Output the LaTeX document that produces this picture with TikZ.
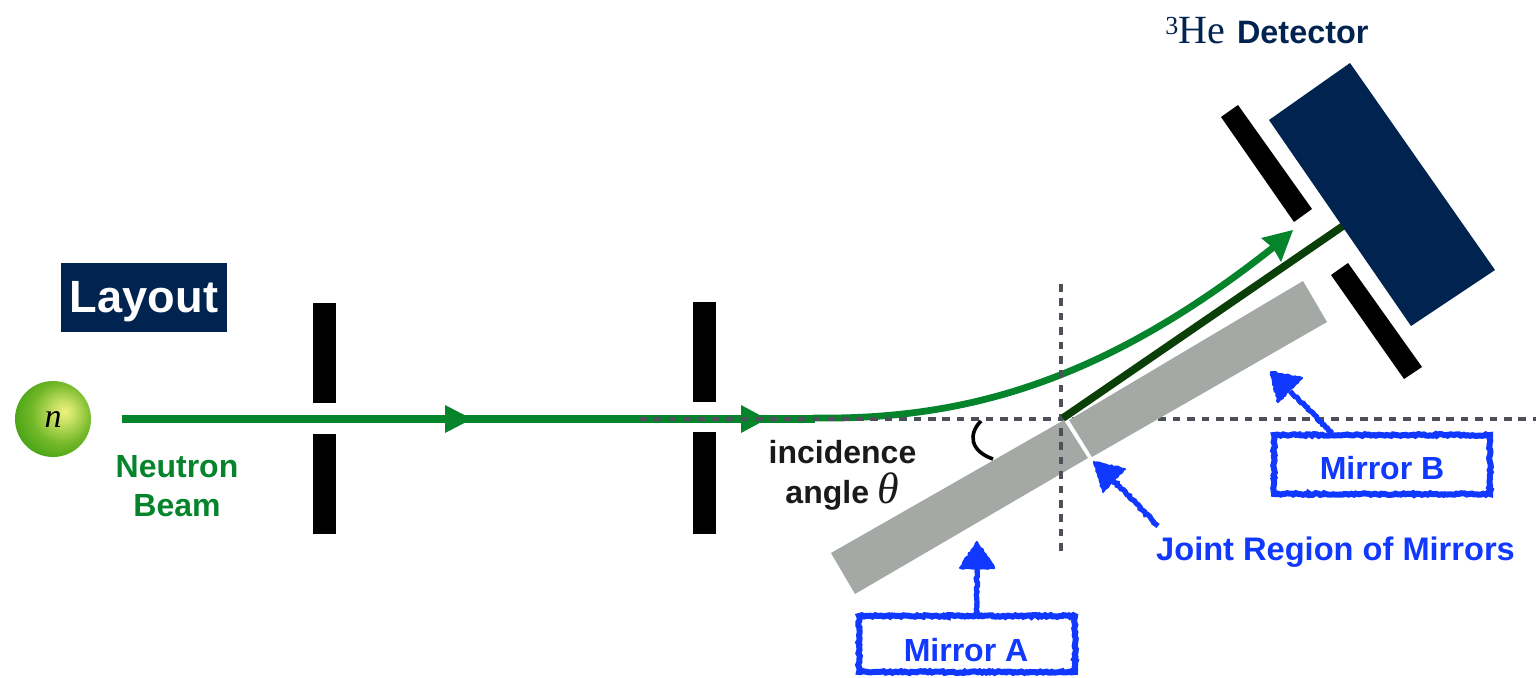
\documentclass[tikz,border=0pt]{standalone}
\usepackage{fontspec}
\setmainfont{Liberation Sans}
\newfontfamily\serifface{Liberation Serif}
\usetikzlibrary{decorations.pathmorphing}
\definecolor{navy}{HTML}{012350}
\definecolor{beamgreen}{HTML}{05842C}
\definecolor{darkgreen}{HTML}{0B3F08}
\definecolor{mirrorgray}{HTML}{A5A9A5}
\definecolor{dashgray}{HTML}{4D5058}
\definecolor{handblue}{HTML}{1038FF}
\definecolor{inktext}{HTML}{1A1A1A}
\definecolor{ballin}{HTML}{EDF27E}
\definecolor{ballmid}{HTML}{72B828}
\definecolor{ballout}{HTML}{3C9E10}
\pgfdeclareradialshading{neutronball}{\pgfpoint{8bp}{5bp}}{color(0bp)=(ballin); color(7bp)=(ballin!70!ballmid); color(20bp)=(ballmid); color(34bp)=(ballout); color(70bp)=(ballout)}
\tikzset{
  x=0.5pt,y=-0.5pt,
  slit/.style={fill=black,draw=none},
  mirror/.style={fill=mirrorgray,draw=none},
  beamline/.style={draw=beamgreen,line width=3.8pt},
  curveline/.style={draw=beamgreen,line width=3.4pt},
  beamhead/.style={fill=beamgreen,draw=none},
  guide/.style={draw=dashgray,line width=2.1pt,dash pattern=on 3.8pt off 3.4pt},
  rough/.style={decorate,decoration={random steps,segment length=1.1pt,amplitude=0.45pt}},
  handbox/.style={draw=handblue,line width=3pt,rough,minimum width=108pt,inner sep=0pt,outer sep=0pt},
  handline/.style={draw=handblue,line width=2.6pt,rough},
  handhead/.style={fill=handblue,draw=handblue,line width=1pt,line join=round,rough},
  blabel/.style={font=\bfseries\fontsize{16}{19.5}\selectfont,text=handblue,inner sep=0pt},
  glabel/.style={font=\bfseries\fontsize{16}{19.5}\selectfont,text=beamgreen,inner sep=0pt,align=center},
}
\begin{document}
\begin{tikzpicture}
\useasboundingbox (0,0) rectangle (1536,678);

% Layout tag
\node[fill=navy,minimum width=83pt,minimum height=34.5pt,inner sep=0pt] (layoutbox) at (144,297.5) {};
\node[anchor=base,text=white,font=\bfseries\fontsize{22.6}{26}\selectfont,inner sep=0pt] (layout) at (144,313) {Layout};

% slits
\fill[slit] (312.5,303) rectangle (336,403.5);
\fill[slit] (312.5,434) rectangle (336,534);
\fill[slit] (693,302) rectangle (716,402);
\fill[slit] (693,432) rectangle (716,534);

% neutron
\node[circle,minimum size=38pt,inner sep=0pt,shading=neutronball] (neutron) at (53,419) {\serifface\itshape\fontsize{17}{17}\selectfont n};

% named points of the beam
\coordinate (beamstart) at (122,419);
\coordinate (beamend) at (815,419);
\coordinate (curvestart) at (813,418);
\coordinate (curveend) at (1275,246);
\coordinate (reflect) at (1063,418);
\coordinate (detfront) at (1343,226);
\coordinate (guideleft) at (640,419);
\coordinate (guideright) at (1536,419);
\coordinate (guidetop) at (1061,284);
\coordinate (guidebottom) at (1061,553);

% beam
\draw[beamline] (beamstart) -- (beamend);
\fill[beamhead] (445,405) -- (472,419) -- (445,433) -- cycle;
\fill[beamhead] (741,405) -- (767,419) -- (741,433) -- cycle;
\draw[curveline] (curvestart) .. controls (960,420) and (1100,385) .. (curveend);
\fill[beamhead] (1293,230) -- (1281,262) -- (1273,248) -- (1261,238) -- cycle;

% horizontal guide, mirrors over it
\draw[guide] (guideleft) -- (guideright);
\fill[mirror] (831,553) -- (1064,420) -- (1088,458) -- (855,594) -- cycle;
\fill[mirror] (1069,420) -- (1303,281) -- (1327,322) -- (1092,457) -- cycle;
\draw[white,line width=1.5pt] (1066,420) -- (1090,458);

% vertical guide
\draw[guide] (guidetop) -- (guidebottom);

% direct beam
\draw[draw=darkgreen,line width=3.8pt] (reflect) -- (detfront);

% detector and its slits
\fill[navy] (1350,63) -- (1495,270) -- (1411,326) -- (1269,120) -- cycle;
\fill[slit] (1221,117) -- (1238,105) -- (1312,209) -- (1294,222) -- cycle;
\fill[slit] (1331,275) -- (1348,263) -- (1422,367) -- (1404,379) -- cycle;

% angle mark
\draw[black,line width=1.8pt] (981,421) .. controls (968,434) and (970,451) .. (993,459);

% texts
\node[glabel,anchor=base] (neutronlabel) at (177,477) {Neutron};
\node[glabel,anchor=base] (beamlabel) at (177,516) {Beam};
\node[anchor=base,inner sep=0pt,text=inktext,font=\bfseries\fontsize{16}{19.5}\selectfont] (incidence) at (842.5,463) {incidence};
\node[anchor=base,inner sep=0pt,text=inktext,font=\bfseries\fontsize{16}{19.5}\selectfont] (angle) at (842.5,503) {angle {\serifface\mdseries\itshape\fontsize{22}{22}\selectfont θ}};
\node[anchor=base west,inner sep=0pt,text=navy] (detlabel) at (1165,44) {\serifface\raisebox{4.8pt}{\fontsize{13}{13}\selectfont 3}\fontsize{20}{20}\selectfont He\kern6pt\fontspec{Liberation Sans}\bfseries\fontsize{16.2}{20}\selectfont Detector};

% Mirror A
\node[handbox,minimum height=28pt] (boxA) at (967,644) {};
\node[blabel,anchor=base] (labelA) at (966,661) {Mirror A};
\coordinate (tipA) at (977,542);
\coordinate (neckA) at (977,566);
\draw[handline] (boxA.north -| neckA) -- (neckA);
\fill[handhead] (tipA) -- (994,568) -- (960,568) -- cycle;

% Mirror B
\node[handbox,minimum height=29.5pt] (boxB) at (1382,464.5) {};
\node[blabel,anchor=base] (labelB) at (1382,480) {Mirror B};
\coordinate (startB) at (1332,433);
\coordinate (tipB) at (1271,372);
\coordinate (neckB) at (1290,391);
\draw[handline] (startB) -- (neckB);
\fill[handhead] (tipB) -- (1302,378) -- (1278,402) -- cycle;

% Joint region
\node[blabel,anchor=base,font=\bfseries\fontsize{16.3}{19.5}\selectfont] (labelJ) at (1335.5,560) {Joint Region of Mirrors};
\coordinate (startJ) at (1158,526);
\coordinate (tipJ) at (1094,462);
\coordinate (neckJ) at (1113,480);
\draw[handline] (startJ) -- (neckJ);
\fill[handhead] (tipJ) -- (1125,469) -- (1103,492) -- cycle;
\end{tikzpicture}
\end{document}
